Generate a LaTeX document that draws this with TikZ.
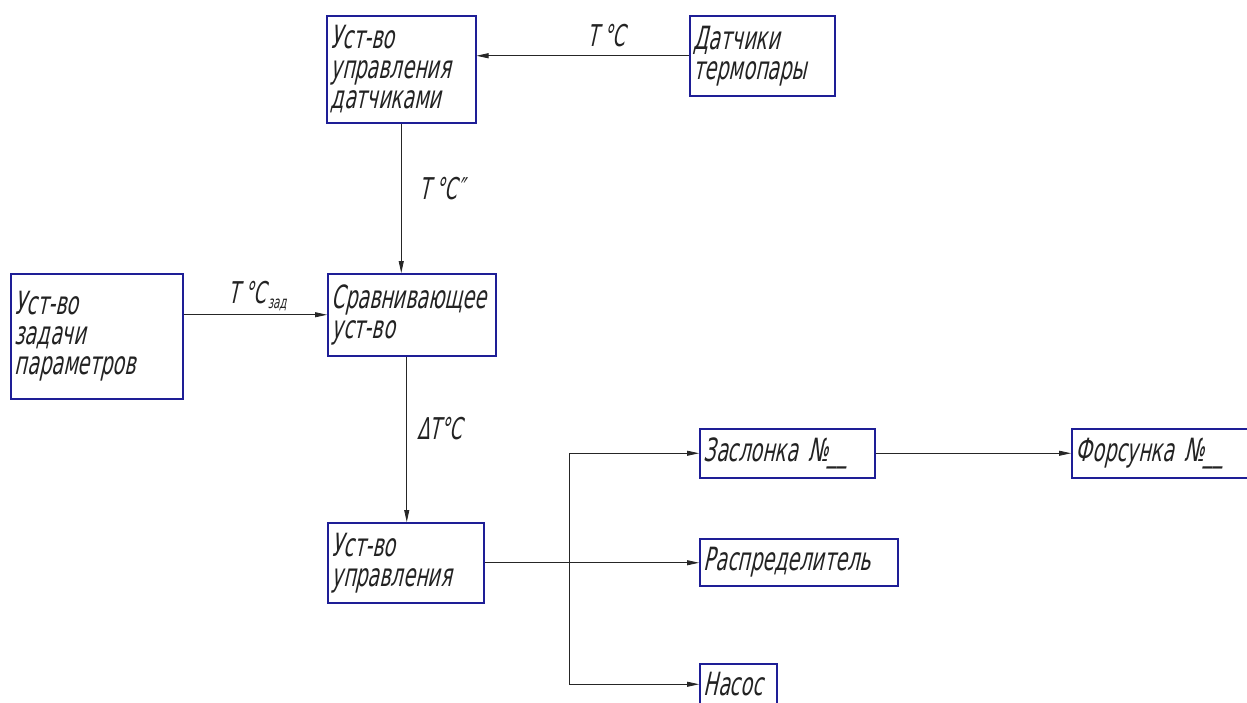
\documentclass[tikz,border=0pt]{standalone}
\usepackage{fontspec}
\usetikzlibrary{arrows.meta}
\newfontfamily\gost{DejaVu Sans}[FakeSlant=0.22, FakeStretch=0.6]
\definecolor{frameblue}{RGB}{30,30,150}
\definecolor{inkgray}{RGB}{35,35,35}
\begin{document}
\begin{tikzpicture}[x=1pt,y=-1pt,
  blk/.style={draw=frameblue, line width=1.5pt, anchor=north west, inner sep=4pt,
    align=left, text=inkgray, font=\gost\fontsize{32}{30}\selectfont},
  lbl/.style={text=inkgray, font=\gost\fontsize{30}{28}\selectfont, inner sep=0pt},
  arr/.style={draw=black!85, line width=0.8pt, -{Triangle[length=12pt,width=5pt]}},
  wire/.style={draw=black!85, line width=0.8pt}]
\useasboundingbox (0,0) rectangle (1247,702);
\clip (0,0) rectangle (1247,702);
\fill[white] (0,0) rectangle (1247,702);

% blocks
\node[blk, text width=141pt, minimum height=107pt] (sensctl) at (326,15)
  {Уст-во\\управления\\датчиками};
\node[blk, text width=137pt, minimum height=80pt] (thermo) at (689,15)
  {Датчики\\термопары};
\node[blk, text width=164pt, minimum height=125pt] (setpt) at (10,273)
  {Уст-во\\задачи\\параметров};
\node[blk, text width=160pt, minimum height=82pt] (cmp) at (327,273)
  {Сравнивающее\\уст-во};
\node[blk, text width=148pt, minimum height=80pt] (ctl) at (327,522)
  {Уст-во\\управления};
\node[blk, text width=167pt, minimum height=49pt] (valve) at (699,428)
  {Заслонка №\_\_};
\node[blk, text width=177pt, minimum height=49pt] (nozzle) at (1071,428)
  {Форсунка №\_\_};
\node[blk, text width=190pt, minimum height=47pt] (distr) at (699,538)
  {Распределитель};
\node[blk, text width=69pt, minimum height=41pt] (pump) at (699,663)
  {Насос};

% signal paths
\draw[arr] (thermo.west) -- (thermo.west -| sensctl.east);
\draw[arr] (sensctl.south) -- (sensctl.south |- cmp.north);
\draw[arr] (cmp.west -| setpt.east) -- (cmp.west);
\draw[arr] ([xshift=-5pt]cmp.south) -- ([xshift=-5pt]cmp.south |- ctl.north);

% distribution from the control unit
\coordinate (tk) at (569,453);
\draw[arr] (ctl.east) -- (ctl.east -| distr.west);
\draw[wire] (tk |- valve.west) -- (tk |- pump.west);
\draw[arr] (tk |- valve.west) -- (valve.west);
\draw[arr] (tk |- pump.west) -- (pump.west);
\draw[arr] (valve.east) -- (nozzle.west);

% signal labels
\node[lbl] (l1) at (606,36) {T\,°C};
\node[lbl] (l2) at (442,189) {T\,°C″};
\node[lbl, anchor=base west] (l3) at (228,303) {T\,°C\kern2pt\raisebox{-5pt}{\fontsize{17}{17}\selectfont зад}};
\node[lbl] (l4) at (440,429) {ΔT°C};
\end{tikzpicture}
\end{document}
